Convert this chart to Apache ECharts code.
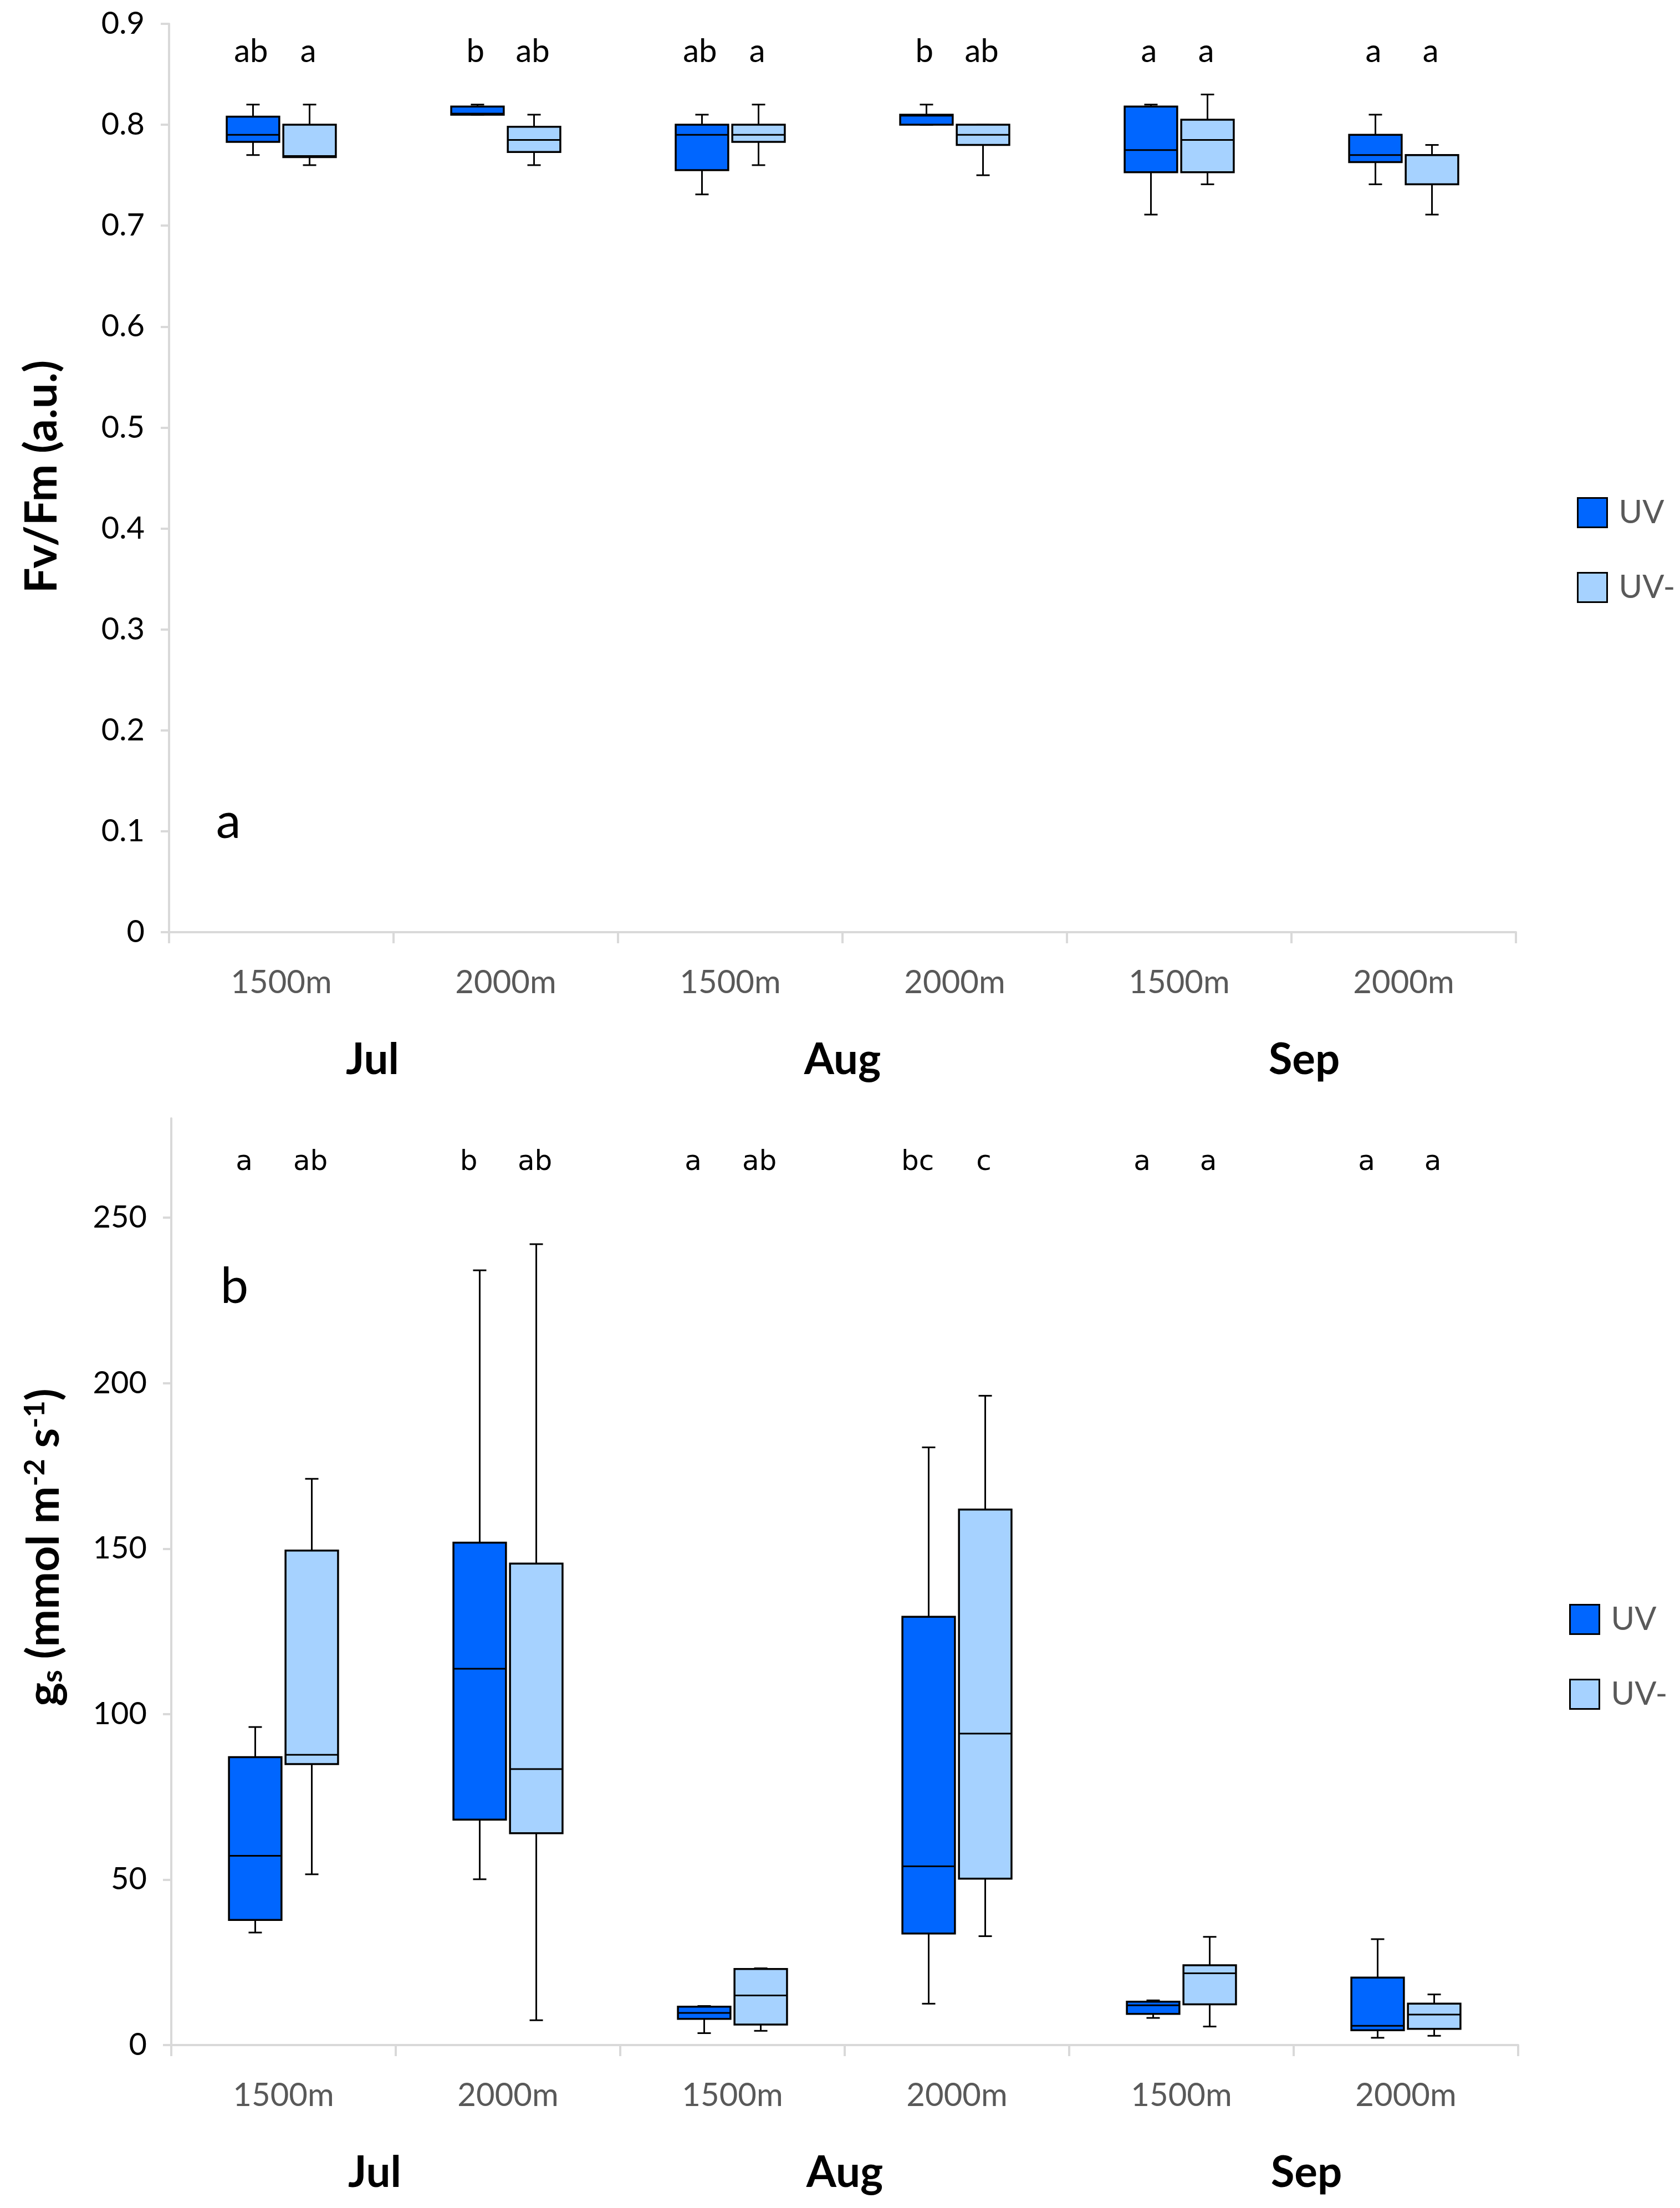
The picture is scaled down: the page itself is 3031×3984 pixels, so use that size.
<!DOCTYPE html>
<html>
<head>
<meta charset="utf-8">
<script src="https://cdn.jsdelivr.net/npm/echarts@6/dist/echarts.min.js"></script>
<style>
html,body{margin:0;padding:0;background:#fff;}
#chart{width:3031px;height:3984px;}
</style>
</head>
<body>
<div id="chart"></div>
<script>
// ---------------- DATA ----------------
const categories = ['1500m', '2000m', '1500m', '2000m', '1500m', '2000m'];
const months = ['Jul', 'Aug', 'Sep'];
const seriesNames = ['UV', 'UV-'];

// Panel a: Fv/Fm  [min, Q1, median, Q3, max]
const fvfmUV = [
  [0.770, 0.783, 0.790, 0.808, 0.820],
  [0.810, 0.810, 0.811, 0.818, 0.820],
  [0.731, 0.755, 0.790, 0.800, 0.810],
  [0.800, 0.800, 0.809, 0.810, 0.820],
  [0.711, 0.753, 0.775, 0.818, 0.820],
  [0.741, 0.763, 0.770, 0.790, 0.810]
];
const fvfmUVminus = [
  [0.760, 0.768, 0.769, 0.800, 0.820],
  [0.760, 0.773, 0.785, 0.798, 0.810],
  [0.760, 0.783, 0.790, 0.800, 0.820],
  [0.750, 0.780, 0.790, 0.800, 0.800],
  [0.741, 0.753, 0.785, 0.805, 0.830],
  [0.711, 0.741, 0.770, 0.770, 0.780]
];
// Panel b: gs (mmol m-2 s-1)  [min, Q1, median, Q3, max]
const gsUV = [
  [34.0, 37.8, 57.2, 87.0, 96.1],
  [50.1, 68.1, 113.7, 151.8, 234.1],
  [3.6, 7.9, 9.7, 11.6, 11.8],
  [12.5, 33.7, 54.0, 129.4, 180.6],
  [8.2, 9.4, 12.0, 13.1, 13.5],
  [2.2, 4.5, 5.8, 20.4, 32.0]
];
const gsUVminus = [
  [51.6, 84.9, 87.7, 149.4, 171.1],
  [7.5, 64.0, 83.4, 145.5, 242.0],
  [4.3, 6.2, 15.0, 23.0, 23.2],
  [32.9, 50.3, 94.1, 161.8, 196.2],
  [5.6, 12.3, 21.7, 24.1, 32.7],
  [2.8, 4.9, 9.2, 12.5, 15.3]
];
// significance letters
const lettersA_UV = ['ab', 'b', 'ab', 'b', 'a', 'a'];
const lettersA_UVminus = ['a', 'ab', 'a', 'ab', 'a', 'a'];
const lettersB_UV = ['a', 'b', 'a', 'bc', 'a', 'a'];
const lettersB_UVminus = ['ab', 'ab', 'ab', 'c', 'a', 'a'];
// axis ticks
const yTicksA = [0, 0.1, 0.2, 0.3, 0.4, 0.5, 0.6, 0.7, 0.8, 0.9];
const yTicksB = [0, 50, 100, 150, 200, 250];

// ---------------- STYLE ----------------
const COLOR_UV = '#0066FF';
const COLOR_UVM = '#A6D2FF';
const AXIS_GRAY = '#D9D9D9';
const FONT = 'Lato';

function toRows(arr) { return arr.map((v, i) => [i].concat(v)); }

function boxRenderer(offsetFrac, color) {
  return function (params, api) {
    const idx = api.value(0);
    const band = api.size([1, 0])[0];
    const cx = api.coord([idx, 0])[0] + offsetFrac * band;
    const w = band * 0.234;
    const cap = 24;
    const y = k => api.coord([idx, api.value(k)])[1];
    const yMin = y(1), yQ1 = y(2), yMed = y(3), yQ3 = y(4), yMax = y(5);
    const ls = { stroke: '#000', lineWidth: 3 };
    return {
      type: 'group',
      children: [
        { type: 'line', shape: { x1: cx, y1: yMax, x2: cx, y2: yQ3 }, style: ls },
        { type: 'line', shape: { x1: cx, y1: yQ1, x2: cx, y2: yMin }, style: ls },
        { type: 'line', shape: { x1: cx - cap / 2, y1: yMax, x2: cx + cap / 2, y2: yMax }, style: ls },
        { type: 'line', shape: { x1: cx - cap / 2, y1: yMin, x2: cx + cap / 2, y2: yMin }, style: ls },
        { type: 'rect', shape: { x: cx - w / 2, y: yQ3, width: w, height: Math.max(yQ1 - yQ3, 1) },
          style: { fill: color, stroke: '#000', lineWidth: 3.5 } },
        { type: 'line', shape: { x1: cx - w / 2, y1: yMed, x2: cx + w / 2, y2: yMed }, style: ls }
      ]
    };
  };
}

function letterRenderer(letters, offsetFrac, topPad, font, size) {
  return function (params, api) {
    const idx = api.value(0);
    const band = api.size([1, 0])[0];
    const cx = api.coord([idx, 0])[0] + offsetFrac * band;
    return {
      type: 'text',
      x: cx,
      y: params.coordSys.y + topPad,
      style: { text: letters[idx], fontFamily: font, fontSize: size, fill: '#000',
               textAlign: 'center', textVerticalAlign: 'middle' }
    };
  };
}

const idxRows = categories.map((c, i) => [i]);

function catAxis(gridIndex) {
  return {
    type: 'category', gridIndex: gridIndex, data: categories,
    axisLine: { show: true, lineStyle: { color: AXIS_GRAY, width: 4 } },
    axisTick: { show: true, length: 20, lineStyle: { color: AXIS_GRAY, width: 4 } },
    axisLabel: { fontFamily: FONT, fontSize: 58, color: '#595959', margin: 62, lineHeight: 58 },
    splitLine: { show: false }
  };
}
const monthStyle = { fontFamily: FONT, fontSize: 78, fontWeight: 'bold', color: '#000', lineHeight: 78 };
function monthAxis(gridIndex) {
  return {
    type: 'category', gridIndex: gridIndex, data: months, position: 'bottom', offset: 180,
    axisLine: { show: false }, axisTick: { show: false }, splitLine: { show: false },
    axisLabel: {
      margin: 12,
      formatter: (val, idx) => '{m' + idx + '|' + val + '}',
      rich: {
        m0: Object.assign({ padding: [0, 76, 0, 0] }, monthStyle),
        m1: Object.assign({ padding: [0, 0, 0, 0] }, monthStyle),
        m2: Object.assign({ padding: [0, 0, 0, 46] }, monthStyle)
      }
    }
  };
}
function valAxis(gridIndex, min, max, interval, ticks) {
  return {
    type: 'value', gridIndex: gridIndex, min: min, max: max, interval: interval,
    axisLine: { show: true, lineStyle: { color: AXIS_GRAY, width: 4 } },
    axisTick: { show: true, length: 15, lineStyle: { color: AXIS_GRAY, width: 4 }, customValues: ticks },
    axisLabel: { fontFamily: FONT, fontSize: 56, color: '#000', margin: 44, customValues: ticks },
    splitLine: { show: false }
  };
}

function legendFor(left, top) {
  return {
    orient: 'vertical', left: left, top: top, itemWidth: 53, itemHeight: 53, itemGap: 77,
    textStyle: { fontFamily: FONT, fontSize: 58, color: '#595959', padding: [0, 0, 0, 16] },
    selectedMode: false,
    data: [
      { name: 'UV', icon: 'rect', itemStyle: { color: COLOR_UV, borderColor: '#000', borderWidth: 3 } },
      { name: 'UV-', icon: 'rect', itemStyle: { color: COLOR_UVM, borderColor: '#000', borderWidth: 3 } }
    ]
  };
}

const option = {
  backgroundColor: '#fff',
  animation: false,
  grid: [
    { left: 305, top: 43, width: 2430, height: 1639 },
    { left: 309, top: 2018, width: 2430, height: 1672 }
  ],
  xAxis: [catAxis(0), monthAxis(0), catAxis(1), monthAxis(1)],
  yAxis: [valAxis(0, 0, 0.9, 0.1, yTicksA), valAxis(1, 0, 280, 50, yTicksB)],
  legend: [legendFor(2840, 891), legendFor(2826, 2888)],
  series: [
    { name: seriesNames[0], type: 'custom', xAxisIndex: 0, yAxisIndex: 0, data: toRows(fvfmUV),
      encode: { x: 0, y: [1, 2, 3, 4, 5] }, itemStyle: { color: COLOR_UV }, clip: false,
      renderItem: boxRenderer(-0.126, COLOR_UV) },
    { name: seriesNames[1], type: 'custom', xAxisIndex: 0, yAxisIndex: 0, data: toRows(fvfmUVminus),
      encode: { x: 0, y: [1, 2, 3, 4, 5] }, itemStyle: { color: COLOR_UVM }, clip: false,
      renderItem: boxRenderer(0.126, COLOR_UVM) },
    { name: seriesNames[0], type: 'custom', xAxisIndex: 2, yAxisIndex: 1, data: toRows(gsUV),
      encode: { x: 0, y: [1, 2, 3, 4, 5] }, itemStyle: { color: COLOR_UV }, clip: false,
      renderItem: boxRenderer(-0.126, COLOR_UV) },
    { name: seriesNames[1], type: 'custom', xAxisIndex: 2, yAxisIndex: 1, data: toRows(gsUVminus),
      encode: { x: 0, y: [1, 2, 3, 4, 5] }, itemStyle: { color: COLOR_UVM }, clip: false,
      renderItem: boxRenderer(0.126, COLOR_UVM) },
    { name: 'lettersA1', type: 'custom', xAxisIndex: 0, yAxisIndex: 0, data: idxRows, encode: { x: 0 },
      renderItem: letterRenderer(lettersA_UV, -0.135, 50, FONT, 58), clip: false },
    { name: 'lettersA2', type: 'custom', xAxisIndex: 0, yAxisIndex: 0, data: idxRows, encode: { x: 0 },
      renderItem: letterRenderer(lettersA_UVminus, 0.12, 50, FONT, 58), clip: false },
    { name: 'lettersB1', type: 'custom', xAxisIndex: 2, yAxisIndex: 1, data: idxRows, encode: { x: 0 },
      renderItem: letterRenderer(lettersB_UV, -0.175, 80, 'DejaVu Sans', 50), clip: false },
    { name: 'lettersB2', type: 'custom', xAxisIndex: 2, yAxisIndex: 1, data: idxRows, encode: { x: 0 },
      renderItem: letterRenderer(lettersB_UVminus, 0.12, 80, 'DejaVu Sans', 50), clip: false }
  ],
  graphic: [
    { type: 'text', x: 76, y: 860, rotation: Math.PI / 2,
      style: { text: 'Fv/Fm (a.u.)', fontFamily: FONT, fontSize: 81, fontWeight: 'bold', fill: '#000',
               textAlign: 'center', textVerticalAlign: 'middle' } },
    { type: 'text', x: 80, y: 2792, rotation: Math.PI / 2,
      style: {
        text: '{t|g}{s|s}{t| (mmol m}{p|-2}{t| s}{p|-1}{t|)}',
        textAlign: 'center', textVerticalAlign: 'middle',
        rich: {
          t: { fontFamily: FONT, fontSize: 81, fontWeight: 'bold', fill: '#000', color: '#000' },
          s: { fontFamily: FONT, fontSize: 52, fontWeight: 'bold', fill: '#000', color: '#000', padding: [30, 0, 0, 0] },
          p: { fontFamily: FONT, fontSize: 52, fontWeight: 'bold', fill: '#000', color: '#000', padding: [0, 0, 34, 0] }
        }
      } },
    { type: 'text', x: 412, y: 1483,
      style: { text: 'a', fontFamily: FONT, fontSize: 90, fill: '#000', textAlign: 'center', textVerticalAlign: 'middle' } },
    { type: 'text', x: 423, y: 2322,
      style: { text: 'b', fontFamily: FONT, fontSize: 90, fill: '#000', textAlign: 'center', textVerticalAlign: 'middle' } }
  ]
};

const chart = echarts.init(document.getElementById('chart'), null, { renderer: 'canvas' });
chart.setOption(option);
</script>
</body>
</html>
